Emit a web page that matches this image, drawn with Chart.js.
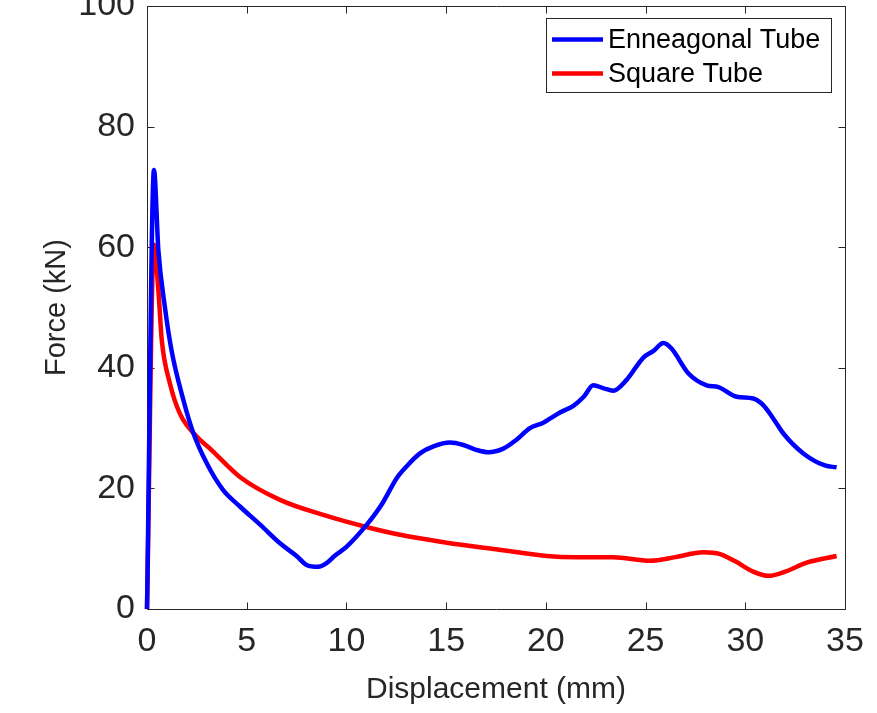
<!DOCTYPE html>
<html><head><meta charset="utf-8">
<style>html,body{margin:0;padding:0;background:#fff}#wrap{width:877px;height:713px}</style>
<script src="https://cdn.jsdelivr.net/npm/chart.js@4.4.1/dist/chart.umd.min.js"></script>
</head><body><div id="wrap"><canvas id="c" width="877" height="713"></canvas></div>
<script>
const seriesNames = ['Enneagonal Tube', 'Square Tube'];
const seriesColors = ['#0000FF', '#FF0000'];

const enneagonalDisp = [0, 0.35, 0.57, 0.9, 1.23, 1.82, 2.3, 2.99, 3.8, 4.66, 5.7, 6.67, 7.5, 8.0, 8.59, 9.0, 9.4, 10.0, 11.0, 11.8, 12.52, 13.0, 13.69, 14.4, 15.19, 15.86, 16.5, 17.11, 17.87, 18.5, 19.2, 19.87, 20.71, 21.38, 21.9, 22.38, 22.9, 23.38, 24.05, 24.89, 25.4, 25.89, 26.3, 27.14, 28.06, 28.65, 29.57, 30.4, 30.9, 31.4, 31.91, 32.91, 33.99, 34.58];
const enneagonalForce = [0, 72.8, 59.5, 50.0, 42.9, 34.7, 29.4, 24.2, 19.8, 17.0, 13.9, 10.9, 8.8, 7.3, 7.0, 7.6, 8.8, 10.3, 13.9, 17.5, 21.7, 23.6, 25.8, 27.0, 27.6, 27.2, 26.4, 26.0, 26.6, 28.0, 30.0, 30.9, 32.6, 33.7, 35.2, 37.1, 36.6, 36.2, 38.0, 41.7, 42.8, 44.1, 43.2, 39.1, 37.1, 36.8, 35.2, 34.9, 33.8, 31.6, 29.1, 25.8, 23.8, 23.5];

const squareDisp = [0, 0.35, 0.57, 0.74, 1.15, 1.65, 2.49, 3.16, 4.66, 6.67, 8.84, 11.0, 12.69, 15.03, 17.5, 20.04, 21.5, 23.38, 25.22, 26.5, 27.9, 28.73, 29.5, 30.4, 31.15, 32.0, 33.08, 34.58];
const squareForce = [0, 60.4, 52.9, 44.6, 37.4, 32.4, 28.6, 26.6, 21.9, 18.1, 15.6, 13.6, 12.3, 11.0, 9.9, 8.8, 8.6, 8.6, 8.0, 8.6, 9.4, 9.1, 7.9, 6.2, 5.5, 6.2, 7.7, 8.8];

const xTicks = [0, 5, 10, 15, 20, 25, 30, 35];
const yTicks = [0, 20, 40, 60, 80, 100];
const xTitle = 'Displacement (mm)';
const yTitle = 'Force (kN)';

const FONT = "Arial, 'Liberation Sans', sans-serif";
const TXT = '#262626';

function pts(xs, ys) { return xs.map((x, i) => ({ x: x, y: ys[i] })); }

const boxPlugin = {
  id: 'boxTicks',
  beforeDatasetsDraw(chart) {
    const { ctx, chartArea: a, scales } = chart;
    ctx.save();
    ctx.strokeStyle = TXT;
    ctx.lineWidth = 1;
    ctx.beginPath();
    const L = Math.round(a.left) + 0.5, R = Math.round(a.right) + 0.5, T = Math.round(a.top) + 0.5, B = Math.round(a.bottom) + 0.5;
    ctx.rect(L, T, R - L, B - T);
    const tl = 7;
    scales.x.ticks.forEach(t => {
      const px = Math.round(scales.x.getPixelForValue(t.value)) + 0.5;
      ctx.moveTo(px, B); ctx.lineTo(px, B - tl);
      ctx.moveTo(px, T); ctx.lineTo(px, T + tl);
    });
    scales.y.ticks.forEach(t => {
      const py = Math.round(scales.y.getPixelForValue(t.value)) + 0.5;
      ctx.moveTo(L, py); ctx.lineTo(L + tl, py);
      ctx.moveTo(R, py); ctx.lineTo(R - tl, py);
    });
    ctx.stroke();
    ctx.restore();
  },
  afterDraw(chart) {
    const { ctx } = chart;
    ctx.save();
    const bx = 546.5, by = 18.5, bw = 285, bh = 74;
    ctx.fillStyle = '#fff';
    ctx.fillRect(bx, by, bw, bh);
    ctx.strokeStyle = TXT;
    ctx.lineWidth = 1;
    ctx.strokeRect(bx, by, bw, bh);
    ctx.font = '27px ' + FONT;
    ctx.textBaseline = 'middle';
    ctx.textAlign = 'left';
    const rows = [39.5, 73.5];
    chart.data.datasets.forEach((ds, i) => {
      const y = rows[i];
      ctx.strokeStyle = ds.borderColor;
      ctx.lineWidth = 4.5;
      ctx.beginPath();
      ctx.moveTo(552, y); ctx.lineTo(603, y);
      ctx.stroke();
      ctx.fillStyle = '#000';
      ctx.fillText(ds.label, 608, y + 1.5);
    });
    ctx.restore();
  }
};

new Chart(document.getElementById('c'), {
  type: 'line',
  data: {
    datasets: [
      { label: seriesNames[0], data: pts(enneagonalDisp, enneagonalForce), borderColor: seriesColors[0], borderWidth: 4.5, pointRadius: 0, cubicInterpolationMode: 'monotone', fill: false, clip: 4 },
      { label: seriesNames[1], data: pts(squareDisp, squareForce), borderColor: seriesColors[1], borderWidth: 4.5, pointRadius: 0, cubicInterpolationMode: 'monotone', fill: false, clip: 4 }
    ]
  },
  options: {
    responsive: false,
    animation: false,
    devicePixelRatio: 1,
    layout: { padding: { left: 0, right: 32, top: 6, bottom: 0 } },
    plugins: { legend: { display: false }, tooltip: { enabled: false } },
    scales: {
      x: {
        type: 'linear', min: 0, max: 35,
        afterBuildTicks: s => { s.ticks = xTicks.map(v => ({ value: v })); },
        afterFit: s => { s.height = 104; s.paddingLeft = 0; s.paddingRight = 0; },
        grid: { display: false, drawTicks: false },
        border: { display: false },
        ticks: { color: TXT, padding: 12, maxRotation: 0, autoSkip: false, font: { family: FONT, size: 34, lineHeight: 1.2 } },
        title: { display: true, text: xTitle, color: TXT, font: { family: FONT, size: 30, lineHeight: 1 }, padding: { top: 0, bottom: 8 } }
      },
      y: {
        type: 'linear', min: 0, max: 100,
        afterBuildTicks: s => { s.ticks = yTicks.map(v => ({ value: v })); },
        afterFit: s => { s.width = 147; s.paddingTop = 0; s.paddingBottom = 0; },
        grid: { display: false, drawTicks: false },
        border: { display: false },
        ticks: { color: TXT, padding: 12, autoSkip: false, font: { family: FONT, size: 34, lineHeight: 1.2 } },
        title: { display: true, text: yTitle, color: TXT, font: { family: FONT, size: 29, lineHeight: 1 }, padding: { top: 42, bottom: 0 } }
      }
    }
  },
  plugins: [boxPlugin]
});
</script></body></html>
